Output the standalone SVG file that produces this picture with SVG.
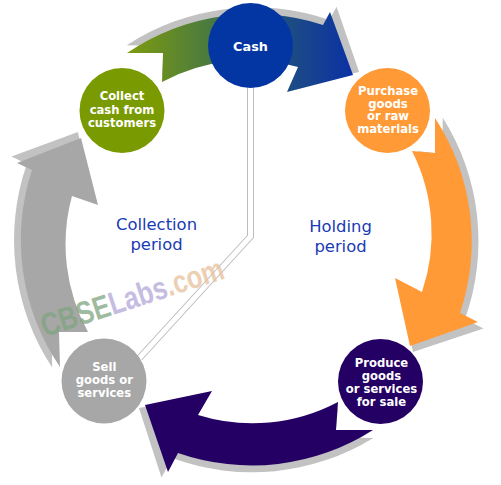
<svg xmlns="http://www.w3.org/2000/svg" width="501" height="485" viewBox="0 0 501 485">
<style>
.sh{fill:#c2c2c2}
.lbl{font-family:"DejaVu Sans","Verdana",sans-serif;font-weight:bold;font-size:11.6px;fill:#ffffff;text-anchor:middle}
.per{font-family:"DejaVu Sans","Verdana",sans-serif;font-size:16.4px;fill:#1a3bb5;text-anchor:middle}
.wm{font-family:"Liberation Sans",Arial,sans-serif;font-weight:bold;font-size:32px}
</style>
<defs>
<linearGradient id="gb" gradientUnits="userSpaceOnUse" x1="127" y1="0" x2="355" y2="0">
<stop offset="0" stop-color="#7d9c0e"/>
<stop offset="0.35" stop-color="#4c7b3e"/>
<stop offset="0.68" stop-color="#1f4f80"/>
<stop offset="1" stop-color="#0a30a6"/>
</linearGradient>
<path id="aGB" d="M127,53 A225,225 0 0,1 323,25 L330,12 L353,75 L287,92 L298,67 A183,183 0 0,0 162,82 L163,53 Z"/>
<path id="aOR" d="M435,118 A225,225 0 0,1 460,313 L478,322 L410,346 L395,278 L422,292 A183,183 0 0,0 412,151 L435,153 Z"/>
<path id="aPU" d="M373,430 A225,225 0 0,1 178,453 L168,472 L145,405 L212,391 L198,415 A183,183 0 0,0 338,402 L336,430 Z"/>
<path id="aGR" d="M60,367 A225,225 0 0,1 32,170 L17,163 L81,138 L98,205 L72,196 A183,183 0 0,0 88,332 L59,332 Z"/>
</defs>
<g id="connectors">
<g transform="translate(247,240) rotate(1) scale(1.03) translate(-247,-240)">
<use href="#aGB" class="sh"/>
<use href="#aOR" class="sh"/>
<use href="#aPU" class="sh"/>
<use href="#aGR" class="sh"/>
</g>
<use href="#aGB" fill="url(#gb)"/>
<use href="#aOR" fill="#ff9a36"/>
<use href="#aPU" fill="#250064"/>
<use href="#aGR" fill="#a7a7a7"/>
<path d="M250.5,86 L250.5,236.5 L139.5,358" fill="none" stroke="#bdbdbd" stroke-width="7"/>
<path d="M250.5,86 L250.5,236.5 L139.5,358" fill="none" stroke="#ffffff" stroke-width="5"/>
</g>
<g id="cash">
<circle cx="250.5" cy="45.5" r="42.5" fill="#0336a3"/>
<text class="lbl" x="250.5" y="51" style="font-size:12.8px">Cash</text>
</g>
<g id="collect">
<circle cx="122" cy="110.5" r="42.5" fill="#7a9a01"/>
<text class="lbl" x="122" y="100.2">Collect</text>
<text class="lbl" x="122" y="113.5">cash from</text>
<text class="lbl" x="122" y="126.8">customers</text>
</g>
<g id="purchase">
<circle cx="387.5" cy="110.5" r="42.5" fill="#ff9a36"/>
<text class="lbl" x="388" y="94.8">Purchase</text>
<text class="lbl" x="388" y="107.5">goods</text>
<text class="lbl" x="388" y="120.2">or raw</text>
<text class="lbl" x="388" y="132.9">materials</text>
</g>
<g id="produce">
<circle cx="380.5" cy="381.5" r="42.5" fill="#250064"/>
<text class="lbl" x="381.5" y="366.7">Produce</text>
<text class="lbl" x="381.5" y="379.5">goods</text>
<text class="lbl" x="381.5" y="392.5">or services</text>
<text class="lbl" x="381.5" y="405.5">for sale</text>
</g>
<g id="sell">
<circle cx="104" cy="381" r="42.5" fill="#a7a7a7"/>
<text class="lbl" x="104.3" y="371">Sell</text>
<text class="lbl" x="104.3" y="384.2">goods or</text>
<text class="lbl" x="104.3" y="397.4">services</text>
</g>
<g id="collection-period">
<text class="per" x="156.5" y="230">Collection</text>
<text class="per" x="156.5" y="250">period</text>
</g>
<g id="holding-period">
<text class="per" x="340.5" y="231.5">Holding</text>
<text class="per" x="340.5" y="251.5">period</text>
</g>
<g id="watermark" opacity="0.75">
<text class="wm" x="0" y="0" transform="translate(45,337) rotate(-18) scale(0.8,1)"><tspan fill="#7ea57f">CBSE</tspan><tspan fill="#b3a6d9">Labs</tspan><tspan fill="#e8bf9c">.com</tspan></text>
</g>
</svg>
